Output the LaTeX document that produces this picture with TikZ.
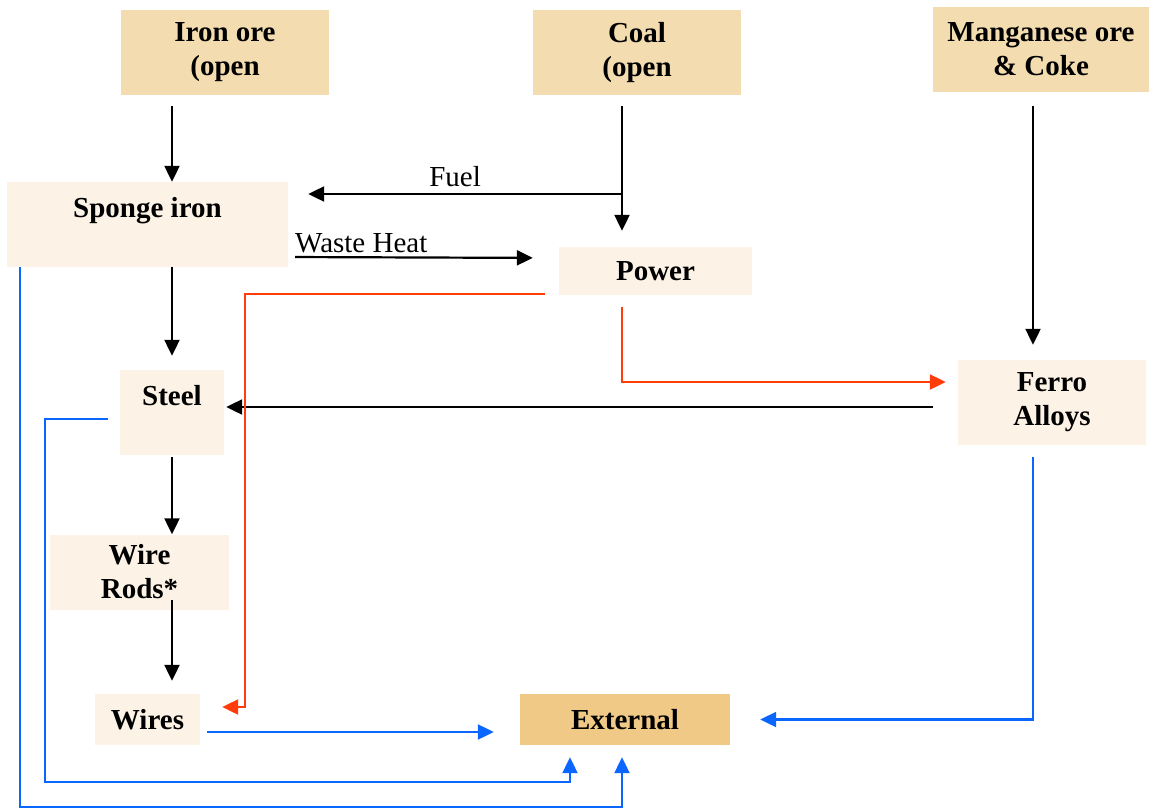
\documentclass[tikz,border=0pt]{standalone}
\usepackage{fontspec}
\setmainfont{Liberation Serif}
\usetikzlibrary{arrows.meta}

\definecolor{oretan}{RGB}{243,221,176}
\definecolor{boxcream}{RGB}{252,243,230}
\definecolor{extgold}{RGB}{240,201,135}
\definecolor{heatred}{RGB}{255,60,10}
\definecolor{flowblue}{RGB}{10,102,255}

\begin{document}
\begin{tikzpicture}[x=1pt,y=-1pt,
  box/.style={fill=boxcream, inner sep=0pt, align=center,
    font=\bfseries\fontsize{29}{34}\selectfont},
  orebox/.style={box, fill=oretan},
  arr/.style={line width=2.2pt, -{Triangle[length=16pt,width=15pt]}},
  redarr/.style={arr, draw=heatred},
  bluearr/.style={arr, draw=flowblue},
  lbl/.style={font=\fontsize{29}{34}\selectfont, inner sep=0pt}]
\useasboundingbox (0,0) rectangle (1149,809);

% raw materials
\node[orebox, minimum width=208pt, minimum height=85pt] (iron) at (225,52.5){Iron ore\\(open};
\node[orebox, minimum width=208pt, minimum height=85pt] (coal) at (637,52.5){Coal\\(open};
\node[orebox, minimum width=216pt, minimum height=85pt] (mang) at (1041,49.5){Manganese ore\\\& Coke};

% plants
\node[box, minimum width=281pt, minimum height=85pt] (sponge) at (147.5,224.5){Sponge iron\\~};
\node[box, minimum width=193pt, minimum height=48pt] (power) at (655.5,271){Power};
\node[box, minimum width=188pt, minimum height=85pt] (ferro) at (1052,402.5){Ferro\\Alloys};
\node[box, minimum width=104pt, minimum height=85pt] (steel) at (172,412.5){Steel\\~};
\node[box, minimum width=179pt, minimum height=75pt] (rods) at (139.5,572){Wire\\Rods*};
\node[box, minimum width=105pt, minimum height=51pt] (wires) at (147.5,719.5){Wires};
\node[box, fill=extgold, minimum width=210pt, minimum height=51pt] (ext) at (625,719.5){External};

% black flows
\draw[arr, shorten <=11pt] (steel |- iron.south) -- (steel |- sponge.north);
\coordinate (cj) at (622,194);
\draw[line width=2.2pt, shorten <=11pt] (cj |- coal.south) -- (cj);
\draw[arr, shorten >=16pt] (cj) -- (cj |- power.north);
\draw[arr, shorten >=20pt] (cj) -- (sponge.east |- cj) node[lbl, midway, above=6pt]{Fuel};
\draw[arr, shorten <=7pt, shorten >=26pt] ([yshift=-32.5pt]sponge.east) -- ([yshift=13pt]power.west);
\node[lbl, anchor=base west] (heat) at (295,252){Waste Heat};
\draw[arr, shorten <=14pt, shorten >=15pt] ([xshift=-8pt]mang.south) -- ([xshift=-8pt]mang.south |- ferro.north);
\draw[arr, shorten <=25pt, shorten >=2pt] ([yshift=-4.5pt]ferro.west) -- ([yshift=-4.5pt]ferro.west -| steel.east);
\draw[arr, shorten >=14pt] (steel |- sponge.south) -- (steel.north);
\draw[arr, shorten <=2pt] (steel.south) -- (steel |- rods.north);
\draw[arr, shorten <=-10pt, shorten >=13pt] (steel |- rods.south) -- (steel |- wires.north);

% power flows
\draw[redarr, shorten <=12pt, shorten >=12pt] ([xshift=-33.5pt]power.south) |- ([yshift=20.5pt]ferro.west);
\coordinate (rk) at (245,294);
\draw[redarr, shorten >=22pt] ([xshift=-14pt,yshift=-23pt]power.west) -- (rk) |- ([yshift=12.5pt]wires.east);

% flows to external
\draw[bluearr, shorten >=12pt] ([xshift=13pt]sponge.south west) -- ++(0,540) -| ([xshift=-3pt]ext.south);
\draw[bluearr, shorten <=12pt, shorten >=12pt] ([yshift=-6.5pt]steel.west) -- ++(-75,0) -- ++(0,363) -| ([xshift=-55pt]ext.south);
\draw[bluearr, shorten <=7pt, shorten >=26pt] ([yshift=-12.5pt]wires.east) -- ([yshift=-12.5pt]wires.east -| ext.west);
\draw[bluearr, shorten <=12pt, shorten >=30pt] ([xshift=-19pt]ferro.south) |- (ext.east);
\end{tikzpicture}
\end{document}
